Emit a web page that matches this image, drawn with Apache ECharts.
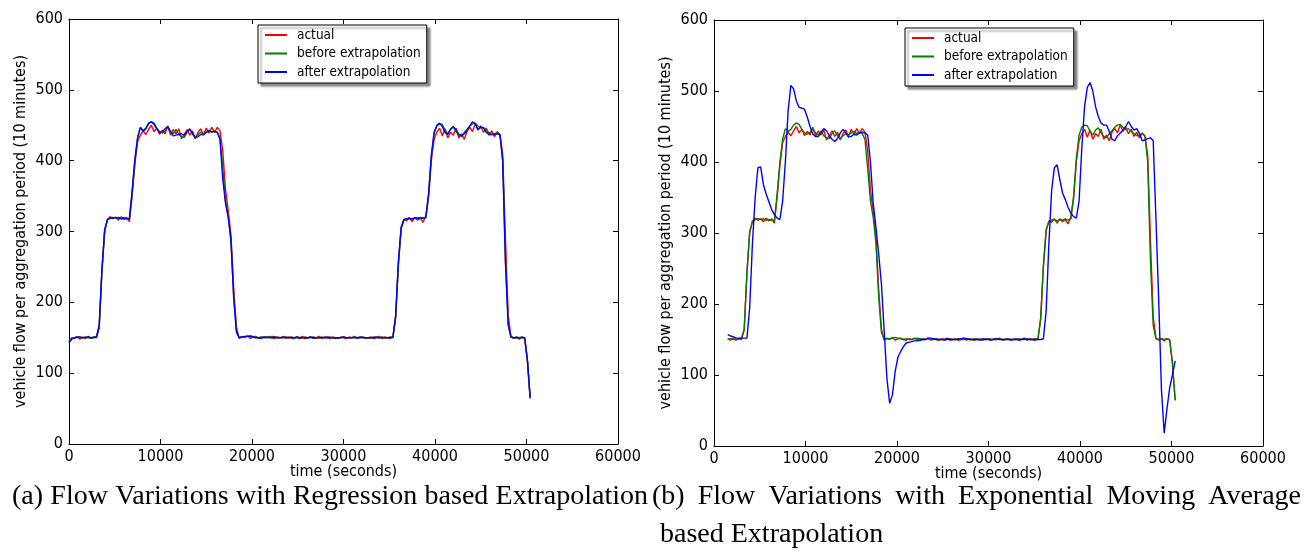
<!DOCTYPE html>
<html>
<head>
<meta charset="utf-8">
<script src="https://cdn.jsdelivr.net/npm/echarts@6/dist/echarts.min.js"></script>
<style>
  html, body { margin: 0; padding: 0; background: #fff; }
  #chart { width: 1304px; height: 552px; }
</style>
</head>
<body>
<div id="chart"></div>
<script>
// one sample every 300 s, starting at t = 0 (rows of 10 = 3000 s)
const STEP = 300;

const actual = [
  144, 150, 149, 151, 148, 151, 149, 152, 149, 151,
  150, 163, 243, 300, 317, 321, 318, 320, 316, 321,
  317, 320, 314, 350, 395, 427, 436, 442, 437, 444,
  450, 441, 446, 437, 443, 438, 449, 436, 444, 438,
  445, 431, 437, 444, 436, 442, 431, 440, 445, 436,
  446, 439, 447, 440, 447, 442, 415, 360, 330, 295,
  220, 165, 149, 152, 150, 153, 149, 151, 152, 150,
  149, 151, 150, 152, 150, 149, 151, 150, 152, 149,
  151, 150, 149, 151, 150, 152, 149, 150, 151, 149,
  150, 152, 149, 151, 150, 149, 151, 150, 149, 151,
  150, 149, 151, 150, 152, 149, 150, 151, 149, 150,
  151, 149, 150, 152, 149, 151, 150, 149, 151, 178,
  252, 303, 317, 315, 320, 314, 320, 316, 319, 313,
  322, 348, 400, 430, 440, 446, 435, 445, 432, 440,
  436, 446, 432, 438, 430, 442, 447, 441, 452, 443,
  449, 440, 446, 436, 442, 434, 441, 436, 410, 290,
  182, 152, 149, 151, 148, 151, 149, 117, 64
];

const beforeExtrap = [
  145, 149, 150, 151, 150, 150, 151, 150, 150, 151,
  152, 165, 245, 302, 316, 319, 320, 319, 320, 318,
  319, 318, 318, 355, 400, 432, 447, 443, 446, 452,
  455, 453, 446, 441, 439, 442, 447, 441, 438, 444,
  437, 434, 433, 440, 444, 437, 433, 437, 440, 438,
  441, 443, 440, 442, 440, 432, 390, 345, 322, 285,
  210, 160, 150, 151, 151, 152, 153, 152, 151, 150,
  151, 150, 150, 151, 152, 151, 150, 150, 151, 150,
  150, 151, 150, 150, 149, 150, 151, 150, 150, 151,
  150, 150, 151, 150, 150, 151, 150, 149, 150, 150,
  151, 150, 150, 150, 151, 150, 150, 151, 150, 150,
  150, 151, 150, 150, 151, 150, 150, 151, 150, 180,
  255, 305, 316, 318, 319, 317, 319, 318, 320, 318,
  320, 352, 405, 438, 449, 452, 451, 443, 438, 445,
  448, 441, 436, 434, 440, 444, 449, 452, 453, 449,
  446, 447, 443, 440, 437, 438, 440, 437, 400, 260,
  170, 151, 150, 151, 150, 151, 150, 118, 65
];

// (a) regression based extrapolation
const afterRegression = [
  143, 148, 150, 151, 151, 150, 150, 151, 150, 150,
  151, 168, 247, 303, 317, 319, 319, 320, 319, 318,
  319, 318, 318, 357, 402, 433, 447, 441, 445, 453,
  455, 451, 445, 440, 441, 445, 448, 441, 435, 436,
  437, 438, 436, 441, 445, 439, 432, 434, 437, 437,
  440, 442, 441, 441, 440, 430, 375, 340, 320, 290,
  205, 158, 150, 151, 152, 152, 152, 151, 150, 150,
  150, 151, 151, 150, 150, 151, 150, 150, 150, 151,
  150, 150, 150, 151, 150, 150, 150, 150, 151, 150,
  150, 150, 150, 150, 151, 150, 150, 150, 150, 150,
  151, 150, 150, 150, 150, 150, 151, 150, 150, 150,
  150, 150, 151, 150, 150, 150, 150, 150, 151, 182,
  258, 306, 317, 318, 318, 318, 319, 319, 319, 319,
  320, 354, 408, 440, 450, 453, 448, 440, 437, 444,
  448, 444, 437, 435, 438, 442, 449, 455, 452, 444,
  448, 446, 440, 437, 437, 437, 438, 437, 400, 255,
  168, 151, 150, 150, 150, 150, 150, 119, 66
];

// (b) exponential moving average based extrapolation, starts at 1500 s
const afterEma = [
  null, null, null, null, null, 157, 155, 154, 152, 152,
  152, 152, 152, 195, 285, 350, 392, 393, 368, 355,
  344, 333, 326, 321, 319, 345, 400, 472, 508, 503,
  486, 477, 476, 474, 463, 450, 439, 436, 436, 441,
  447, 444, 437, 432, 429, 433, 441, 446, 441, 435,
  436, 439, 438, 441, 442, 441, 438, 400, 342, 308,
  270, 228, 162, 95, 60, 72, 105, 125, 133, 140,
  145, 146, 147, 148, 148, 149, 150, 150, 152, 152,
  151, 150, 150, 150, 150, 151, 150, 150, 150, 150,
  151, 152, 151, 150, 150, 150, 150, 150, 151, 150,
  150, 150, 150, 151, 150, 150, 150, 150, 150, 150,
  150, 150, 150, 151, 150, 150, 150, 150, 150, 150,
  151, 190, 285, 360, 392, 396, 375, 356, 347, 336,
  328, 323, 321, 345, 420, 478, 505, 512, 500, 478,
  464, 455, 452, 452, 443, 432, 430, 437, 441, 445,
  450, 457, 450, 445, 447, 440, 430, 431, 433, 434,
  430, 320, 206, 80, 18, 52, 82, 100, 120
];

const seriesNames = ['actual', 'before extrapolation', 'after extrapolation'];
const seriesColors = ['#ff0000', '#007f00', '#0000ff'];
const captionA = '(a) Flow Variations with Regression based Extrapolation';
const captionB1 = '(b) Flow Variations with Exponential Moving Average';
const captionB2 = 'based Extrapolation';

const AXIS_FONT = '"DejaVu Sans Condensed", "DejaVu Sans", sans-serif';
const SERIF = '"Liberation Serif", "DejaVu Serif", serif';

const chart = echarts.init(document.getElementById('chart'), null, { renderer: 'canvas' });

function pts(arr, from) {
  const out = [];
  for (let i = from; i < arr.length; i++) {
    if (arr[i] != null) out.push([i * STEP, arr[i]]);
  }
  return out;
}

function xAxis(gi, pos, main) {
  return {
    gridIndex: gi, type: 'value', position: pos,
    min: 0, max: 60000, interval: 10000,
    name: main ? 'time (seconds)' : '', nameLocation: 'middle', nameGap: 20,
    nameMoveOverlap: false,
    nameTextStyle: { fontFamily: AXIS_FONT, fontSize: 16, color: '#000' },
    axisLine: { onZero: false, lineStyle: { color: '#000', width: 1 } },
    axisTick: { inside: true, length: 5, lineStyle: { color: '#000' } },
    axisLabel: { show: main, margin: 5, fontFamily: AXIS_FONT, fontSize: 16, color: '#000',
      hideOverlap: false, formatter: v => String(v) },
    splitLine: { show: false }
  };
}

function yAxis(gi, pos, main) {
  return {
    gridIndex: gi, type: 'value', position: pos,
    min: 0, max: 600, interval: 100,
    name: main ? 'vehicle flow per aggregation period (10 minutes)' : '',
    nameLocation: 'middle', nameGap: 40,
    nameMoveOverlap: false,
    nameTextStyle: { fontFamily: AXIS_FONT, fontSize: 16, color: '#000' },
    axisLine: { onZero: false, lineStyle: { color: '#000', width: 1 } },
    axisTick: { inside: true, length: 5, lineStyle: { color: '#000' } },
    axisLabel: { show: main, margin: 6, fontFamily: AXIS_FONT, fontSize: 16, color: '#000',
      hideOverlap: false, formatter: v => String(v) },
    splitLine: { show: false }
  };
}

function legend(left, top) {
  return {
    left: left, top: top, orient: 'vertical',
    data: seriesNames,
    icon: 'rect', itemWidth: 22, itemHeight: 2, itemGap: 4.5,
    padding: [3, 6, 4, 7],
    backgroundColor: '#fff', borderColor: '#000', borderWidth: 1, borderRadius: 0,
    shadowColor: 'rgba(0,0,0,0.45)', shadowBlur: 2, shadowOffsetX: 3, shadowOffsetY: 3,
    selectedMode: false,
    textStyle: { fontFamily: AXIS_FONT, fontSize: 13.5, lineHeight: 14, color: '#000', padding: [0, 0, 0, 5] }
  };
}

function lines(gi, arrays, from) {
  return arrays.map((arr, k) => ({
    name: seriesNames[k], type: 'line',
    xAxisIndex: gi * 2, yAxisIndex: gi * 2,
    data: pts(arr, from),
    showSymbol: false, symbol: 'none',
    lineStyle: { color: seriesColors[k], width: 1.4 },
    itemStyle: { color: seriesColors[k] },
    z: 2 + k
  }));
}

// spread words over a line like a justified LaTeX caption
function captionLine(words, x0, x1, y, size) {
  const font = size + 'px ' + SERIF;
  const ctx = document.createElement('canvas').getContext('2d');
  ctx.font = font;
  const widths = words.map(w => ctx.measureText(w).width);
  const total = widths.reduce((a, b) => a + b, 0);
  const gap = words.length > 1 ? (x1 - x0 - total) / (words.length - 1) : 0;
  let x = x0;
  return words.map((w, i) => {
    const el = { type: 'text', x: x, y: y, style: { text: w, font: font, fill: '#000', verticalAlign: 'middle', align: 'left' } };
    x += widths[i] + gap;
    return el;
  });
}

const graphics = []
  .concat(captionLine(captionA.split(' '), 12, 648, 497, 28))
  .concat(captionLine(captionB1.split(' '), 652, 1301, 497, 28))
  .concat(captionLine([captionB2], 660, 660, 535, 28));

chart.setOption({
  backgroundColor: '#fff',
  animation: false,
  grid: [
    { left: 69, top: 19, width: 549, height: 425, containLabel: false },
    { left: 714, top: 20, width: 549, height: 426, containLabel: false }
  ],
  xAxis: [xAxis(0, 'bottom', true), xAxis(0, 'top', false), xAxis(1, 'bottom', true), xAxis(1, 'top', false)],
  yAxis: [yAxis(0, 'left', true), yAxis(0, 'right', false), yAxis(1, 'left', true), yAxis(1, 'right', false)],
  legend: [legend(258, 25), legend(905, 28)],
  series: lines(0, [actual, beforeExtrap, afterRegression], 0)
    .concat(lines(1, [actual, beforeExtrap, afterEma], 5)),
  graphic: graphics
});
</script>
</body>
</html>
